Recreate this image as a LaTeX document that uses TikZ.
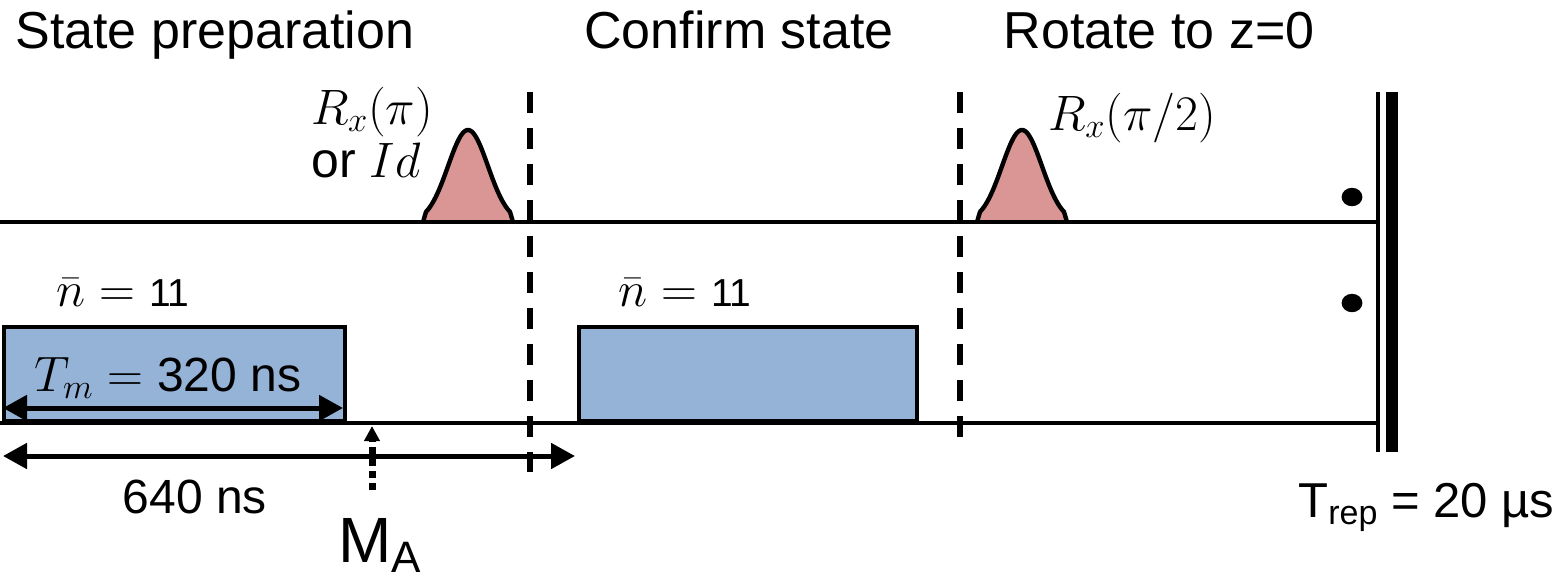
\documentclass[tikz,border=0pt]{standalone}
\usepackage{fontspec}
\setmainfont{Liberation Sans}
\usetikzlibrary{arrows.meta,positioning}
\definecolor{pulsered}{HTML}{D99694}
\definecolor{toneblue}{HTML}{95B3D7}
\begin{document}
\begin{tikzpicture}[x=0.5pt,y=-0.5pt]
\tikzset{
  wire/.style={line width=2.2pt},
  cut/.style={line width=2.6pt,dash pattern=on 10.5pt off 7.5pt},
  drivebox/.style={draw,line width=2.2pt,fill=toneblue,minimum height=47pt,inner sep=0pt,anchor=south west},
  gauss/.style={draw,line width=2.2pt,fill=pulsered,line join=round},
  span/.style={{Triangle[length=12pt,width=12.5pt]}-{Triangle[length=12pt,width=12.5pt]},line width=2.5pt},
  readout/.style={-{Triangle[length=7.5pt,width=7.5pt]},line width=3.5pt,dash pattern=on 3.5pt off 2.5pt},
  title/.style={font=\fontsize{26}{30}\selectfont,anchor=base,inner sep=0pt},
  label/.style={font=\fontsize{24}{28}\selectfont,anchor=base,inner sep=0pt},
  gate/.style={font=\fontsize{25}{30}\selectfont,anchor=base,inner sep=0pt},
  photons/.style={font=\fontsize{19.5}{22}\selectfont,anchor=base,inner sep=0pt}
}
\useasboundingbox (0,0) rectangle (1562,580);
% phase titles
\node[title,anchor=base west] (t_prep) at (15,48) {State preparation};
\node[title] (t_conf) at (739,48) {Confirm state};
\node[title] (t_rot) at (1159,48) {Rotate to z=0};
% wire ends
\coordinate (q_in) at (0,222);
\coordinate (q_out) at (1378,222);
\coordinate (c_in) at (0,423);
\coordinate (c_out) at (1378,423);
% drive boxes on the cavity line
\node[drivebox,minimum width=170.5pt] (d_prep) at (2,423) {};
\node[drivebox,minimum width=169pt] (d_conf) at (577,423) {};
% qubit pulses
\filldraw[gauss] (423,222) -- plot[domain=-42:42,samples=60] ({468+\x},{222-92*exp(-(\x*\x)/800)}) -- (513,222);
\filldraw[gauss] (977,222) -- plot[domain=-42:42,samples=60] ({1022+\x},{222-92*exp(-(\x*\x)/800)}) -- (1067,222);
\draw[wire] (q_in) -- (q_out);
\draw[wire] (c_in) -- (c_out);
% phase borders
\coordinate (cut1_t) at (530,92);
\coordinate (cut1_b) at (530,472);
\coordinate (cut2_t) at (960,92);
\coordinate (cut2_b) at (960,445);
\draw[cut] (cut1_t) -- (cut1_b);
\draw[cut] (cut2_t) -- (cut2_b);
% repetition end
\coordinate (rep_t) at (1378,92);
\coordinate (rep_b) at (1378,452);
\draw[line width=2.2pt] (rep_t) -- (rep_b);
\draw[line width=6pt] ([xshift=7pt]rep_t) -- ([xshift=7pt]rep_b);
\fill (1352,197) ellipse (5.2pt and 4.6pt);
\fill (1352,303) ellipse (5.2pt and 4.6pt);
% texts
\node[gate] (l_rx) at (372,124) {$R_x(\pi)$};
\node[gate] (l_id) at (366,177) {or $Id$};
\node[gate] (l_rx2) at (1132,130) {$R_x(\pi/2)$};
\node[photons] (n_prep) at (123,306) {{\fontsize{24}{24}\selectfont$\bar{n}={}$}11};
\node[photons] (n_conf) at (685,306) {{\fontsize{24}{24}\selectfont$\bar{n}={}$}11};
\node[label] (l_tm) at (168,391) {$T_m={}$320 ns};
\node[label] (l_640) at (195,513) {640 ns};
\node[label,anchor=base west,font=\fontsize{24.5}{28}\selectfont] (l_rep) at (1298,517) {T\raisebox{-0.3ex}{\fontsize{17}{17}\selectfont rep} = 20 µs};
\node[font=\fontsize{32}{36}\selectfont,anchor=base,inner sep=0pt] (l_ma) at (380,562) {M\raisebox{-0.3ex}{\fontsize{22}{22}\selectfont A}};
% durations
\coordinate (tm_l) at (3,408);
\coordinate (tm_r) at (343,408);
\coordinate (tot_l) at (3,456);
\coordinate (tot_r) at (575,456);
\draw[span] (tm_l) -- (tm_r);
\draw[span] (tot_l) -- (tot_r);
\coordinate (ma_t) at (372,426);
\coordinate (ma_b) at (372,490);
\draw[readout] (ma_b) -- (ma_t);
\end{tikzpicture}
\end{document}
